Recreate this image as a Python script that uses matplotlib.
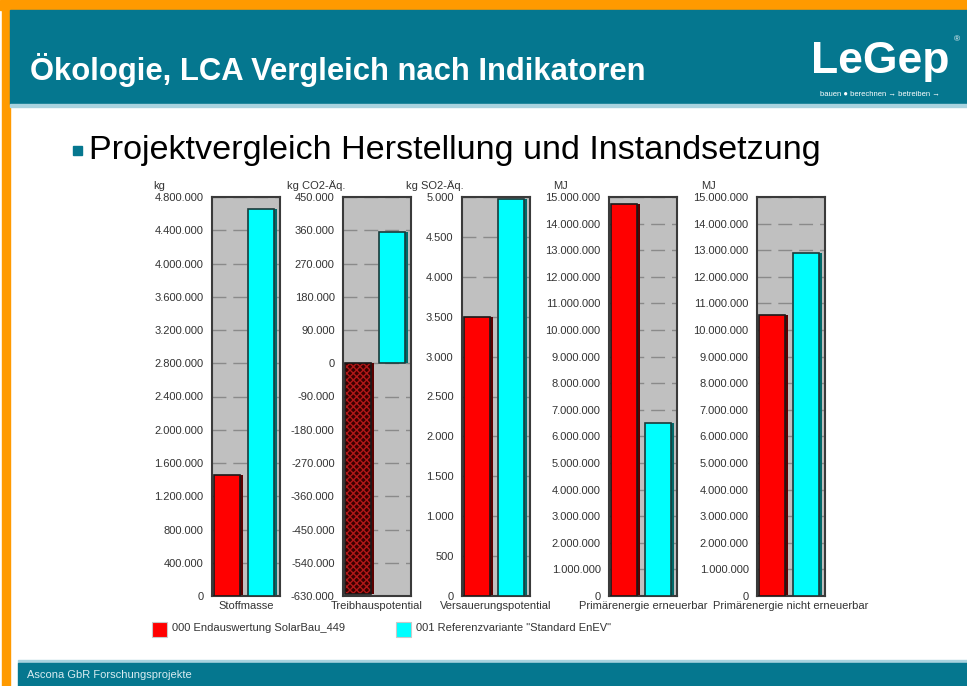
import matplotlib
matplotlib.use("Agg")
import matplotlib.pyplot as plt
from matplotlib.patches import Rectangle
from matplotlib.ticker import FuncFormatter, MultipleLocator

# data
categories = ["Stoffmasse", "Treibhauspotential", "Versauerungspotential",
              "Primärenergie erneuerbar", "Primärenergie nicht erneuerbar"]
units = ["kg", "kg CO2-Äq.", "kg SO2-Äq.", "MJ", "MJ"]
solarbau = [1450000, -625000, 3490, 14750000, 10550000]
referenz = [4650000, 355000, 4970, 6500000, 12900000]
y_min = [0, -630000, 0, 0, 0]
y_max = [4800000, 450000, 5000, 15000000, 15000000]
y_step = [400000, 90000, 500, 1000000, 1000000]
series_names = ["000 Endauswertung SolarBau_449", '001 Referenzvariante "Standard EnEV"']

W, H = 967, 686
TEAL = "#05778f"
ORANGE = "#ff9a00"
FONT = "Liberation Sans"

fig = plt.figure(figsize=(W / 100, H / 100), dpi=100)
fig.patch.set_facecolor("white")

def box(x0, y0, x1, y1):
    return [x0 / W, 1 - y1 / H, (x1 - x0) / W, (y1 - y0) / H]

def rect(x0, y0, x1, y1, color):
    fig.patches.append(Rectangle((x0 / W, 1 - y1 / H), (x1 - x0) / W, (y1 - y0) / H,
                                 transform=fig.transFigure, color=color, zorder=0))

def ftext(x, y, s, **kw):
    fig.text(x / W, 1 - y / H, s, family=FONT, **kw)

# slide frame
rect(0, 0, W, 10, ORANGE)
rect(2, 0, 10, H, ORANGE)
rect(10, 10, W, 104, TEAL)
rect(10, 104, W, 107, "#a9d3df")
rect(18, 660, W, 663, "#a9d3df")
rect(18, 663, W, H, TEAL)

ftext(30, 70, "Ökologie, LCA Vergleich nach Indikatoren", color="white",
      fontsize=22.3, fontweight="bold", va="center")
ftext(880, 62, "LeGep", color="white", fontsize=32, fontweight="bold",
      ha="center", va="center")
ftext(957, 40, "®", color="white", fontsize=6, ha="center", va="center")
ftext(880, 95, "bauen \u25cf berechnen \u2192 betreiben \u2192", color="white",
      fontsize=5.5, ha="center", va="center")
ftext(27, 675, "Ascona GbR Forschungsprojekte", color="#d9ecf1", fontsize=8, va="center")

rect(73, 146, 82, 155, TEAL)
ftext(89, 151, "Projektvergleich Herstellung und Instandsetzung", color="black",
      fontsize=24.6, va="center")

# five small charts
ax_left = [212, 343, 462, 609, 757]
fmt = FuncFormatter(lambda v, p: "{:,.0f}".format(v).replace(",", "."))

for i in range(5):
    ax = fig.add_axes(box(ax_left[i], 197, ax_left[i] + 68, 596))
    ax.set_facecolor("#c0c0c0")
    ax.set_xlim(-0.44, 1.56)
    ax.set_ylim(y_min[i], y_max[i])
    ax.yaxis.set_major_locator(MultipleLocator(y_step[i]))
    ax.yaxis.set_major_formatter(fmt)
    ax.grid(axis="y", color="#8a8a8a", linestyle=(0, (10, 5)), linewidth=1)
    ax.set_axisbelow(True)
    ax.set_xticks([])
    ax.tick_params(axis="y", length=0, pad=6, labelsize=8, labelcolor="#333333")
    for lab in ax.get_yticklabels():
        lab.set_family(FONT)
    for sp in ax.spines.values():
        sp.set_color("#3a3a3a")
        sp.set_linewidth(1.5)

    # 3d side faces
    ax.bar([0.08, 1.08], [solarbau[i], referenz[i]], width=0.76,
           color=["#5a0000", "#006a6a"], zorder=2)
    if solarbau[i] < 0:
        ax.bar(0, solarbau[i], width=0.76, color="#3a0000", edgecolor="#b01818",
               hatch="xxxxx", linewidth=0, zorder=3)
        ax.bar(0, solarbau[i], width=0.76, fill=False, edgecolor="#1a1a1a",
               linewidth=1.2, zorder=4)
    else:
        ax.bar(0, solarbau[i], width=0.76, color="#ff0000", edgecolor="#1a1a1a",
               linewidth=1.2, zorder=3)
    ax.bar(1, referenz[i], width=0.76, color="#00ffff", edgecolor="#1a3a3a",
           linewidth=1.2, zorder=3)

    ftext(ax_left[i] - 59 + (3 if i > 0 else 0), 186, units[i], fontsize=8,
          color="#333333", va="center")
    ftext(ax_left[i] + 34, 606, categories[i], fontsize=8, color="#333333",
          ha="center", va="center")

# legend
legend_colors = ["#ff0000", "#00ffff"]
legend_x = [152, 396]
for name, col, lx in zip(series_names, legend_colors, legend_x):
    fig.patches.append(Rectangle((lx / W, 1 - 637 / H), 15 / W, 15 / H,
                                 transform=fig.transFigure, facecolor=col,
                                 edgecolor="#c8c8c8", linewidth=0.8))
    ftext(lx + 20, 628, name, fontsize=8, color="#333333", va="center")

fig.savefig("out.png", dpi=100)
